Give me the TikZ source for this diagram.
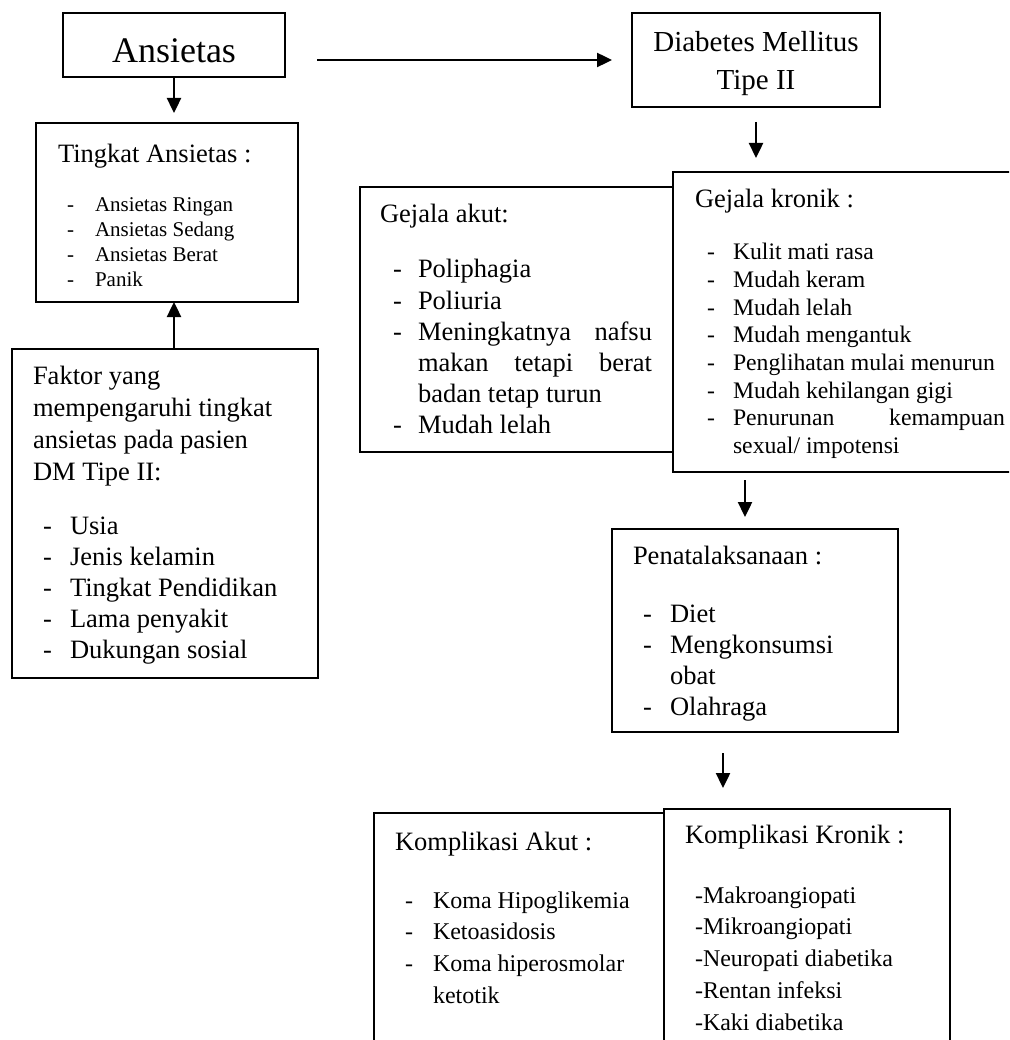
\documentclass[tikz,border=0pt]{standalone}
\usepackage{fontspec}
\setmainfont{Liberation Serif}
\usetikzlibrary{arrows.meta}
\tikzset{
 box/.style={draw, line width=2pt, fill=white, inner sep=0pt, outer sep=0pt, anchor=north west},
 arr/.style={line width=2.4pt, -{Triangle[width=14pt,length=15pt]}},
 txt/.style={anchor=base west, inner sep=0pt, outer sep=0pt},
 ctr/.style={anchor=base, inner sep=0pt, outer sep=0pt},
 fA/.style={font=\fontsize{26.5}{31}\selectfont},
 fB/.style={font=\fontsize{24}{29}\selectfont},
 fK/.style={font=\fontsize{23.7}{28}\selectfont},
 fC/.style={font=\fontsize{21}{25}\selectfont},
}
\begin{document}
\begin{tikzpicture}[x=1pt,y=-1pt]
\clip (0,0) rectangle (1009,1040);
\fill[white] (0,0) rectangle (1009,1040);

% ---------- boxes ----------
\node[box, minimum width=222pt, minimum height=64pt] (ans) at (63,13) {};
\node[box, minimum width=248pt, minimum height=94pt] (dm) at (632,13) {};
\node[box, minimum width=262pt, minimum height=179pt] (ting) at (36,123) {};
\node[box, minimum width=306pt, minimum height=329pt] (fak) at (12,349) {};
\node[box, minimum width=313pt, minimum height=265pt] (ga) at (360,187) {};
\node[box, minimum width=345pt, minimum height=300pt] (gk) at (673,172) {};
\node[box, minimum width=286pt, minimum height=203pt] (pen) at (612,529) {};
\node[box, minimum width=290pt, minimum height=260pt] (ka) at (374,813) {};
\node[box, minimum width=286pt, minimum height=260pt] (kk) at (664,809) {};

% ---------- texts ----------
\node[ctr, font=\fontsize{36}{40}\selectfont] (ansT) at (174,63) {Ansietas};
\node[ctr, font=\fontsize{29}{34}\selectfont] (dmT1) at (756,52) {Diabetes Mellitus};
\node[ctr, font=\fontsize{29}{34}\selectfont] (dmT2) at (756,90) {Tipe II};

% Tingkat Ansietas
\node[txt, fA] (tingT) at (58,163) {Tingkat Ansietas :};
\foreach \t [count=\i from 0] in {Ansietas Ringan, Ansietas Sedang, Ansietas Berat, Panik}{
  \node[txt, fC] (ting-d\i) at (67,{212+24.7*\i}) {-};
  \node[txt, fC] (ting-t\i) at (95,{212+24.7*\i}) {\t};
}

% Faktor
\foreach \t [count=\i from 0] in {Faktor yang, mempengaruhi tingkat, ansietas pada pasien, DM Tipe II:}{
  \node[txt, fA] (fak-h\i) at (33,{384+32*\i}) {\t};
}
\foreach \t [count=\i from 0] in {Usia, Jenis kelamin, Tingkat Pendidikan, Lama penyakit, Dukungan sosial}{
  \node[txt, fA] (fak-d\i) at (43,{534+31*\i}) {-};
  \node[txt, fA] (fak-t\i) at (70,{534+31*\i}) {\t};
}

% Gejala akut
\node[txt, fA] (gaT) at (380,223) {Gejala akut:};
\foreach \t [count=\i from 0] in {Poliphagia, Poliuria, {\makebox[234pt][s]{Meningkatnya nafsu}}, {\makebox[234pt][s]{makan tetapi berat}}, badan tetap turun, Mudah lelah}{
  \node[txt, fA] (ga-t\i) at (418,{278+31*\i}) {\t};
}
\foreach \i in {0,1,2,5}{
  \node[txt, fA] (ga-d\i) at (393,{278+31*\i}) {-};
}

% Gejala kronik
\node[txt, fA] (gkT) at (695,208) {Gejala kronik :};
\foreach \t [count=\i from 0] in {Kulit mati rasa, Mudah keram, Mudah lelah, Mudah mengantuk, Penglihatan mulai menurun, Mudah kehilangan gigi, {\makebox[272pt][s]{Penurunan kemampuan}}, sexual/ impotensi}{
  \node[txt, fK] (gk-t\i) at (733,{260+27.6*\i}) {\t};
}
\foreach \i in {0,...,6}{
  \node[txt, fK] (gk-d\i) at (707,{260+27.6*\i}) {-};
}

% Penatalaksanaan
\node[txt, fA] (penT) at (633,564) {Penatalaksanaan :};
\foreach \t [count=\i from 0] in {Diet, Mengkonsumsi, obat, Olahraga}{
  \node[txt, fA] (pen-t\i) at (670,{622+31*\i}) {\t};
}
\foreach \i in {0,1,3}{
  \node[txt, fA] (pen-d\i) at (643,{622+31*\i}) {-};
}

% Komplikasi Akut
\node[txt, fA] (kaT) at (395,850) {Komplikasi Akut :};
\foreach \t [count=\i from 0] in {Koma Hipoglikemia, Ketoasidosis, Koma hiperosmolar, ketotik}{
  \node[txt, fB] (ka-t\i) at (433,{908+31.7*\i}) {\t};
}
\foreach \i in {0,1,2}{
  \node[txt, fB] (ka-d\i) at (405,{908+31.7*\i}) {-};
}

% Komplikasi Kronik
\node[txt, fA] (kkT) at (685,843) {Komplikasi Kronik :};
\foreach \t [count=\i from 0] in {Makroangiopati, Mikroangiopati, Neuropati diabetika, Rentan infeksi, Kaki diabetika}{
  \node[txt, fB] (kk-d\i) at (695,{903+31.75*\i}) {-};
  \node[txt, fB] (kk-t\i) at (703,{903+31.75*\i}) {\t};
}

% ---------- connectors ----------
\draw[arr, shorten <=32pt, shorten >=20pt] (ans.east |- dm.west) -- (dm.west);
\draw[arr, shorten >=10pt] (ans.south) -- (ans.south |- ting.north);
\draw[arr] (ans.south |- fak.north) -- (ans.south |- ting.south);
\draw[arr, shorten <=15pt, shorten >=14pt] (dm.south) -- (dm.south |- gk.north);
\draw[arr, shorten <=8pt, shorten >=12pt] ([xshift=-10pt]pen.north |- gk.south) -- ([xshift=-10pt]pen.north);
\draw[arr, shorten <=21pt, shorten >=21pt] ([xshift=-32pt]pen.south) -- ([xshift=-32pt]pen.south |- kk.north);
\end{tikzpicture}
\end{document}
